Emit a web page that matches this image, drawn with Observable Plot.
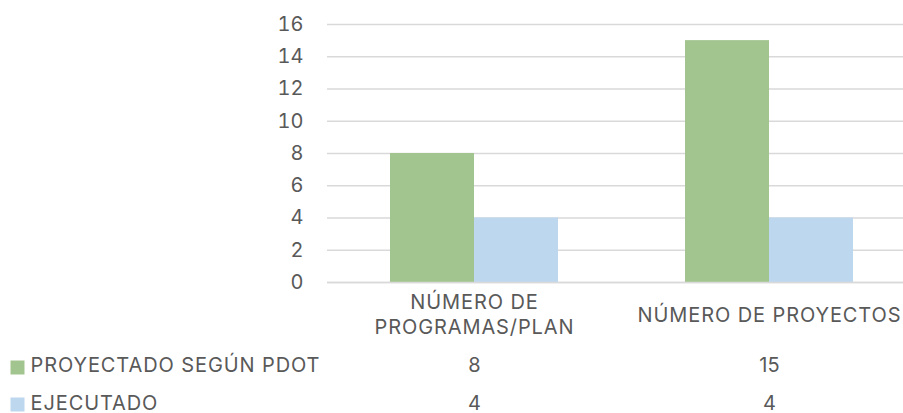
<!DOCTYPE html>
<html>
<head>
<meta charset="utf-8">
<script src="https://cdn.jsdelivr.net/npm/d3@7"></script>
<script src="https://cdn.jsdelivr.net/npm/@observablehq/plot@0.6"></script>
<style>
  html, body { margin: 0; padding: 0; background: #fff; overflow: hidden; }
  svg { display: block; }
</style>
</head>
<body>
<div id="chart"></div>
<script>
const categories = ["NÚMERO DE PROGRAMAS/PLAN", "NÚMERO DE PROYECTOS"];
const categoryLabels = ["NÚMERO DE\nPROGRAMAS/PLAN", "NÚMERO DE PROYECTOS"];
const seriesNames = ["PROYECTADO SEGÚN PDOT", "EJECUTADO"];
const proyectado = [8, 15];
const ejecutado = [4, 4];
const yTicks = [0, 2, 4, 6, 8, 10, 12, 14, 16];
const colors = ["#a2c48f", "#bdd7ee"];

const rows = categories.map((c, i) => ({cat: c, label: categoryLabels[i], proj: proyectado[i], ejec: ejecutado[i]}));
const legend = seriesNames.map((s, i) => ({name: s, color: colors[i], row: i}));
const labelOf = new Map(rows.map(r => [r.cat, r.label]));

const font = "Inter, 'Noto Sans', sans-serif";
const textColor = "#595959";
const fs = 20;
const rowTextDy = [89, 127];
const rowKeyDy = [85, 122];

const legendMarks = legend.flatMap((d, i) => [
  Plot.dot([d], {frameAnchor: "bottom-left", dx: -310, dy: rowKeyDy[i], symbol: "square", r: 7.9, fill: "color"}),
  Plot.text([d], {frameAnchor: "bottom-left", dx: -297, dy: rowTextDy[i], text: "name", textAnchor: "start", fontSize: fs, fill: textColor, className: "legend-label"})
]);

const chart = Plot.plot({
  width: 903,
  height: 413,
  marginLeft: 327,
  marginRight: 0,
  marginTop: 24,
  marginBottom: 131,
  style: {fontFamily: font, fontSize: fs + "px", color: textColor, background: "#fff", overflow: "visible"},
  x: {domain: categories, range: [327, 917], paddingInner: 0.4305, paddingOuter: 0.215, align: 0.5},
  y: {domain: [0, 16]},
  marks: [
    Plot.gridY(yTicks, {stroke: "#d9d9d9", strokeOpacity: 1, strokeWidth: 1.3}),
    Plot.barY(rows, {x: "cat", y: "proj", fill: colors[0], insetRight: 84}),
    Plot.barY(rows, {x: "cat", y: "ejec", fill: colors[1], insetLeft: 84}),
    Plot.ruleY([0], {stroke: "#d9d9d9", strokeWidth: 1.3}),
    Plot.axisY(yTicks, {tickSize: 0, tickPadding: 24, fontSize: fs, fill: textColor, label: null}),
    Plot.axisX({tickSize: 0, tickPadding: 31, lineAnchor: "middle", lineHeight: 1.25, fontSize: fs, fill: textColor, label: null, tickFormat: d => labelOf.get(d)}),
    // data table values
    Plot.text(rows, {x: "cat", text: d => String(d.proj), frameAnchor: "bottom", dy: rowTextDy[0], fontSize: fs, fill: textColor}),
    Plot.text(rows, {x: "cat", text: d => String(d.ejec), frameAnchor: "bottom", dy: rowTextDy[1], fontSize: fs, fill: textColor}),
    ...legendMarks
  ]
});
chart.querySelectorAll("[aria-label='x-axis tick label'] text").forEach(t => t.style.letterSpacing = "0.9px");
chart.querySelectorAll(".legend-label text").forEach(t => t.style.letterSpacing = "0.9px");
document.getElementById("chart").appendChild(chart);
</script>
</body>
</html>
